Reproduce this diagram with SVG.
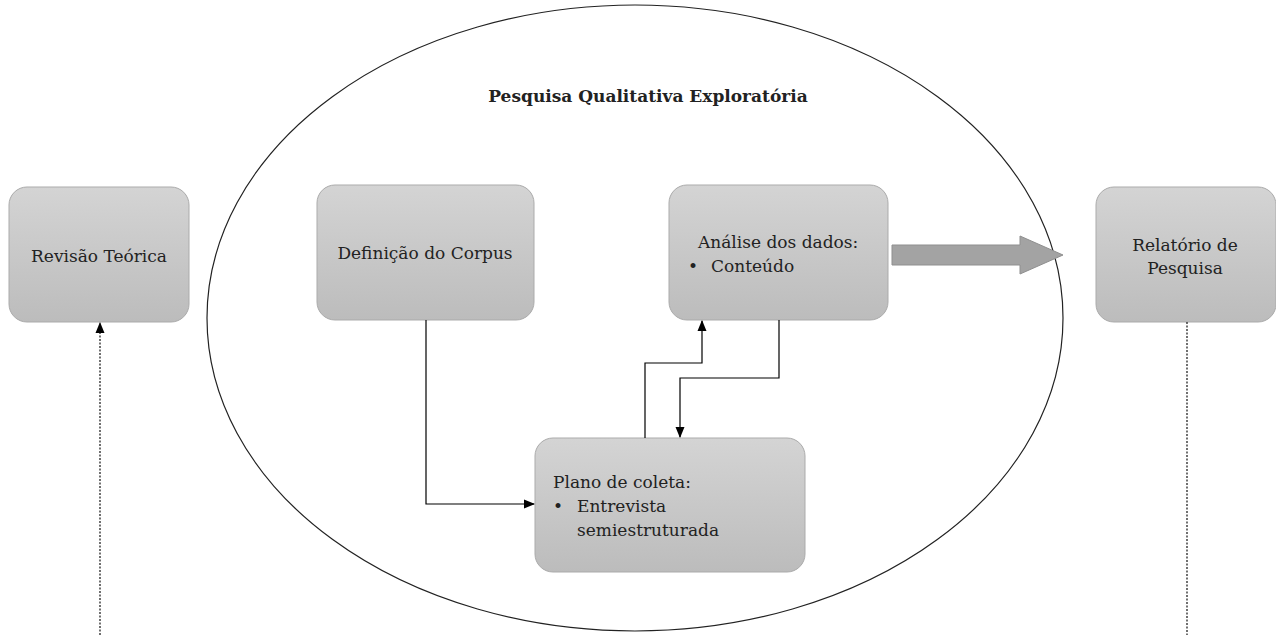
<svg xmlns="http://www.w3.org/2000/svg" width="1276" height="635" viewBox="0 0 1276 635">
<style>
.box{fill:url(#g);stroke:#ababab;stroke-width:1}
.t{font-family:"DejaVu Serif","Liberation Serif",serif;font-size:17px;fill:#222}
.c{text-anchor:middle}
.ln{fill:none;stroke:#000;stroke-width:1.2}
.dot{fill:none;stroke:#111;stroke-width:1.2;stroke-dasharray:2 1.5}
</style>
<defs>
<linearGradient id="g" x1="0" y1="0" x2="0" y2="1">
<stop offset="0" stop-color="#d4d4d4"/>
<stop offset="1" stop-color="#bcbcbc"/>
</linearGradient>
<marker id="ah" markerWidth="11" markerHeight="11" refX="10" refY="5.5" orient="auto" markerUnits="userSpaceOnUse">
<path d="M0,1 L11,5.5 L0,10 Z" fill="#000"/>
</marker>
</defs>
<rect width="1276" height="635" fill="#fff"/>
<g id="ellipse">
<ellipse cx="635" cy="318" rx="428" ry="313" fill="none" stroke="#222" stroke-width="1.2"/>
<text x="648" y="102" class="t c" font-weight="bold" font-size="15">Pesquisa Qualitativa Exploratória</text>
</g>
<g id="revisao">
<rect class="box" x="9" y="187" width="180" height="135" rx="18"/>
<text x="99" y="262" class="t c">Revisão Teórica</text>
</g>
<g id="definicao">
<rect class="box" x="317" y="185" width="217" height="135" rx="18"/>
<text x="425" y="259" class="t c">Definição do Corpus</text>
</g>
<g id="analise">
<rect class="box" x="669" y="185" width="219" height="135" rx="18"/>
<text x="698" y="248" class="t">Análise dos dados:</text>
<text x="688" y="272" class="t">•</text>
<text x="711" y="272" class="t">Conteúdo</text>
</g>
<g id="plano">
<rect class="box" x="535" y="438" width="270" height="134" rx="18"/>
<text x="553" y="488" class="t">Plano de coleta:</text>
<text x="553" y="512" class="t">•</text>
<text x="577" y="512" class="t">Entrevista</text>
<text x="577" y="536" class="t">semiestruturada</text>
</g>
<g id="relatorio">
<rect class="box" x="1096" y="187" width="180" height="135" rx="18"/>
<text x="1185" y="251" class="t c">Relatório de</text>
<text x="1185" y="274" class="t c">Pesquisa</text>
</g>
<g id="connectors">
<polyline class="ln" points="426,320 426,504 534,504" marker-end="url(#ah)"/>
<polyline class="ln" points="645,438 645,363 702,363 702,321" marker-end="url(#ah)"/>
<polyline class="ln" points="779,320 779,378 680,378 680,437" marker-end="url(#ah)"/>
<path d="M892,245 L1020,245 L1020,236 L1063,255 L1020,274 L1020,265 L892,265 Z" fill="#a3a3a3" stroke="#8f8f8f" stroke-width="1"/>
<line class="dot" x1="100" y1="635" x2="100" y2="323" marker-end="url(#ah)"/>
<line class="dot" x1="1187" y1="322" x2="1187" y2="635"/>
</g>
</svg>
